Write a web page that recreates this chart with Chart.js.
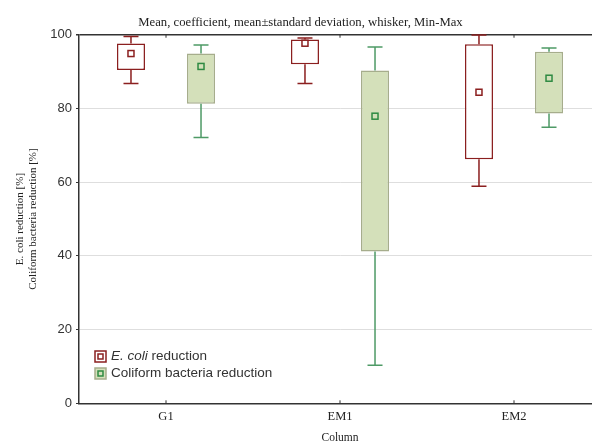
<!DOCTYPE html>
<html>
<head>
<meta charset="utf-8">
<script src="https://cdn.jsdelivr.net/npm/chart.js@4"></script>
<style>
  html, body { margin: 0; padding: 0; overflow: hidden; background: #fff; }
  #wrap { width: 612px; height: 445px; }
</style>
</head>
<body>
<div id="wrap"><canvas id="chart" width="612" height="445"></canvas></div>
<script>
// values
const categories = ["G1", "EM1", "EM2"];
const yTicks = [0, 20, 40, 60, 80, 100];

const ecoliMean = [94.9, 97.7, 84.4];
const ecoliLow  = [90.4, 92.0, 66.2];   // mean - sd
const ecoliHigh = [97.6, 98.7, 97.4];   // mean + sd
const ecoliMin  = [86.8, 86.8, 58.9];
const ecoliMax  = [99.5, 99.1, 99.9];

const coliMean = [91.4, 77.9, 88.2];
const coliLow  = [81.3, 41.2, 78.6];
const coliHigh = [94.9, 90.3, 95.4];
const coliMin  = [72.1, 10.3, 74.9];
const coliMax  = [97.2, 96.7, 96.4];

const RED = "#8b1f1f";
const GREEN_LINE = "#4e9a66";
const GREEN_MEAN = "#2e8a42";
const GREEN_FILL = "#d4e0ba";
const GREEN_BORDER = "#a6ad8c";

const whiskers = [
  { mean: ecoliMean, min: ecoliMin, max: ecoliMax, line: RED, mean_c: RED, meanFill: "#fff" },
  { mean: coliMean, min: coliMin, max: coliMax, line: GREEN_LINE, mean_c: GREEN_MEAN, meanFill: GREEN_FILL }
];

// whiskers, mean squares, frame ticks and legend
const boxExtras = {
  id: "boxExtras",
  afterDatasetsDraw(chart) {
    const ctx = chart.ctx;
    const y = chart.scales.y;
    const x = chart.scales.x;
    const area = chart.chartArea;
    ctx.save();

    whiskers.forEach((w, d) => {
      const meta = chart.getDatasetMeta(d);
      const ds = chart.data.datasets[d];
      meta.data.forEach((bar, i) => {
        const top = y.getPixelForValue(ds.data[i][1]);
        const bot = y.getPixelForValue(ds.data[i][0]);
        const yMax = y.getPixelForValue(w.max[i]);
        const yMin = y.getPixelForValue(w.min[i]);
        ctx.strokeStyle = w.line;
        ctx.lineWidth = 1.5;
        ctx.beginPath();
        ctx.moveTo(bar.x, top); ctx.lineTo(bar.x, yMax);
        ctx.moveTo(bar.x - 7.5, yMax); ctx.lineTo(bar.x + 7.5, yMax);
        ctx.moveTo(bar.x, bot); ctx.lineTo(bar.x, yMin);
        ctx.moveTo(bar.x - 7.5, yMin); ctx.lineTo(bar.x + 7.5, yMin);
        ctx.stroke();

        const ym = y.getPixelForValue(w.mean[i]);
        ctx.fillStyle = w.meanFill;
        ctx.fillRect(bar.x - 3, ym - 3, 6, 6);
        ctx.strokeStyle = w.mean_c;
        ctx.strokeRect(bar.x - 3, ym - 3, 6, 6);
      });
    });

    // small inside ticks on top and bottom frame
    ctx.strokeStyle = "#333";
    ctx.lineWidth = 1;
    categories.forEach((c, i) => {
      const px = x.getPixelForValue(i);
      ctx.beginPath();
      ctx.moveTo(px, area.bottom); ctx.lineTo(px, area.bottom - 3);
      ctx.moveTo(px, area.top); ctx.lineTo(px, area.top + 3);
      ctx.stroke();
    });

    // legend
    const lx = area.left + 16, ly1 = 356.5, ly2 = 373.5, s = 11;
    ctx.lineWidth = 1.5;
    ctx.fillStyle = "#fff";
    ctx.fillRect(lx, ly1 - s / 2, s, s);
    ctx.strokeStyle = RED;
    ctx.strokeRect(lx, ly1 - s / 2, s, s);
    ctx.strokeRect(lx + s / 2 - 2.5, ly1 - 2.5, 5, 5);

    ctx.fillStyle = GREEN_FILL;
    ctx.fillRect(lx, ly2 - s / 2, s, s);
    ctx.strokeStyle = GREEN_BORDER;
    ctx.strokeRect(lx, ly2 - s / 2, s, s);
    ctx.strokeStyle = GREEN_MEAN;
    ctx.strokeRect(lx + s / 2 - 2.5, ly2 - 2.5, 5, 5);

    ctx.fillStyle = "#333";
    ctx.textBaseline = "middle";
    ctx.textAlign = "left";
    const tx = lx + s + 5;
    ctx.font = "italic 13.5px 'Liberation Sans', Arial, sans-serif";
    ctx.fillText("E. coli", tx, ly1);
    const w1 = ctx.measureText("E. coli").width;
    ctx.font = "13.5px 'Liberation Sans', Arial, sans-serif";
    ctx.fillText(" reduction", tx + w1, ly1);
    ctx.fillText("Coliform bacteria reduction", tx, ly2);

    ctx.restore();
  }
};

const ctx = document.getElementById("chart").getContext("2d");
new Chart(ctx, {
  type: "bar",
  data: {
    labels: categories,
    datasets: [
      {
        label: "E. coli reduction",
        data: categories.map((c, i) => [ecoliLow[i], ecoliHigh[i]]),
        backgroundColor: "#ffffff",
        borderColor: RED,
        borderWidth: 1.5,
        borderSkipped: false
      },
      {
        label: "Coliform bacteria reduction",
        data: categories.map((c, i) => [coliLow[i], coliHigh[i]]),
        backgroundColor: GREEN_FILL,
        borderColor: GREEN_BORDER,
        borderWidth: 1.5,
        borderSkipped: false
      }
    ]
  },
  options: {
    responsive: false,
    animation: false,
    categoryPercentage: 0.805,
    barPercentage: 0.4,
    layout: { padding: { left: 0, right: 11, top: 0, bottom: 0 } },
    plugins: {
      legend: { display: false },
      tooltip: { enabled: false },
      title: {
        display: true,
        text: "Mean, coefficient, mean±standard deviation, whisker, Min-Max",
        color: "#222",
        font: { family: "'Liberation Serif', 'Times New Roman', serif", size: 12.7, weight: "normal" },
        padding: { top: 15, bottom: 4.5 }
      }
    },
    scales: {
      x: {
        grid: { color: "rgba(0,0,0,0)", drawTicks: false },
        border: { color: "#333", width: 1.5 },
        ticks: {
          color: "#222",
          padding: 6,
          font: { family: "'Liberation Serif', 'Times New Roman', serif", size: 12.5 }
        },
        title: {
          display: true,
          text: "Column",
          color: "#222",
          font: { family: "'Liberation Serif', 'Times New Roman', serif", size: 11.5 },
          padding: { top: 0, bottom: 0 }
        },
        afterFit(scale) { scale.height = 41.7; }
      },
      y: {
        min: 0,
        max: 100,
        afterBuildTicks(scale) { scale.ticks = yTicks.map(v => ({ value: v })); },
        grid: {
          color: c => (c.tick && c.tick.value === 100) ? "#333" : (c.tick && c.tick.value === 0 ? "rgba(0,0,0,0)" : "#dedede"),
          lineWidth: c => (c.tick && c.tick.value === 100) ? 1.5 : 1,
          tickColor: "#333",
          tickLength: 3
        },
        border: { color: "#333", width: 1.5 },
        ticks: {
          color: "#333",
          padding: 4,
          font: { family: "'Liberation Sans', Arial, sans-serif", size: 13 }
        },
        title: {
          display: true,
          text: ["E. coli reduction [%]", "Coliform bacteria reduction [%]"],
          color: "#222",
          font: { family: "'Liberation Serif', 'Times New Roman', serif", size: 11, lineHeight: 1.1 },
          padding: { top: 14.5, bottom: 0 }
        },
        afterFit(scale) { scale.width = 79; }
      }
    }
  },
  plugins: [boxExtras]
});
</script>
</body>
</html>
